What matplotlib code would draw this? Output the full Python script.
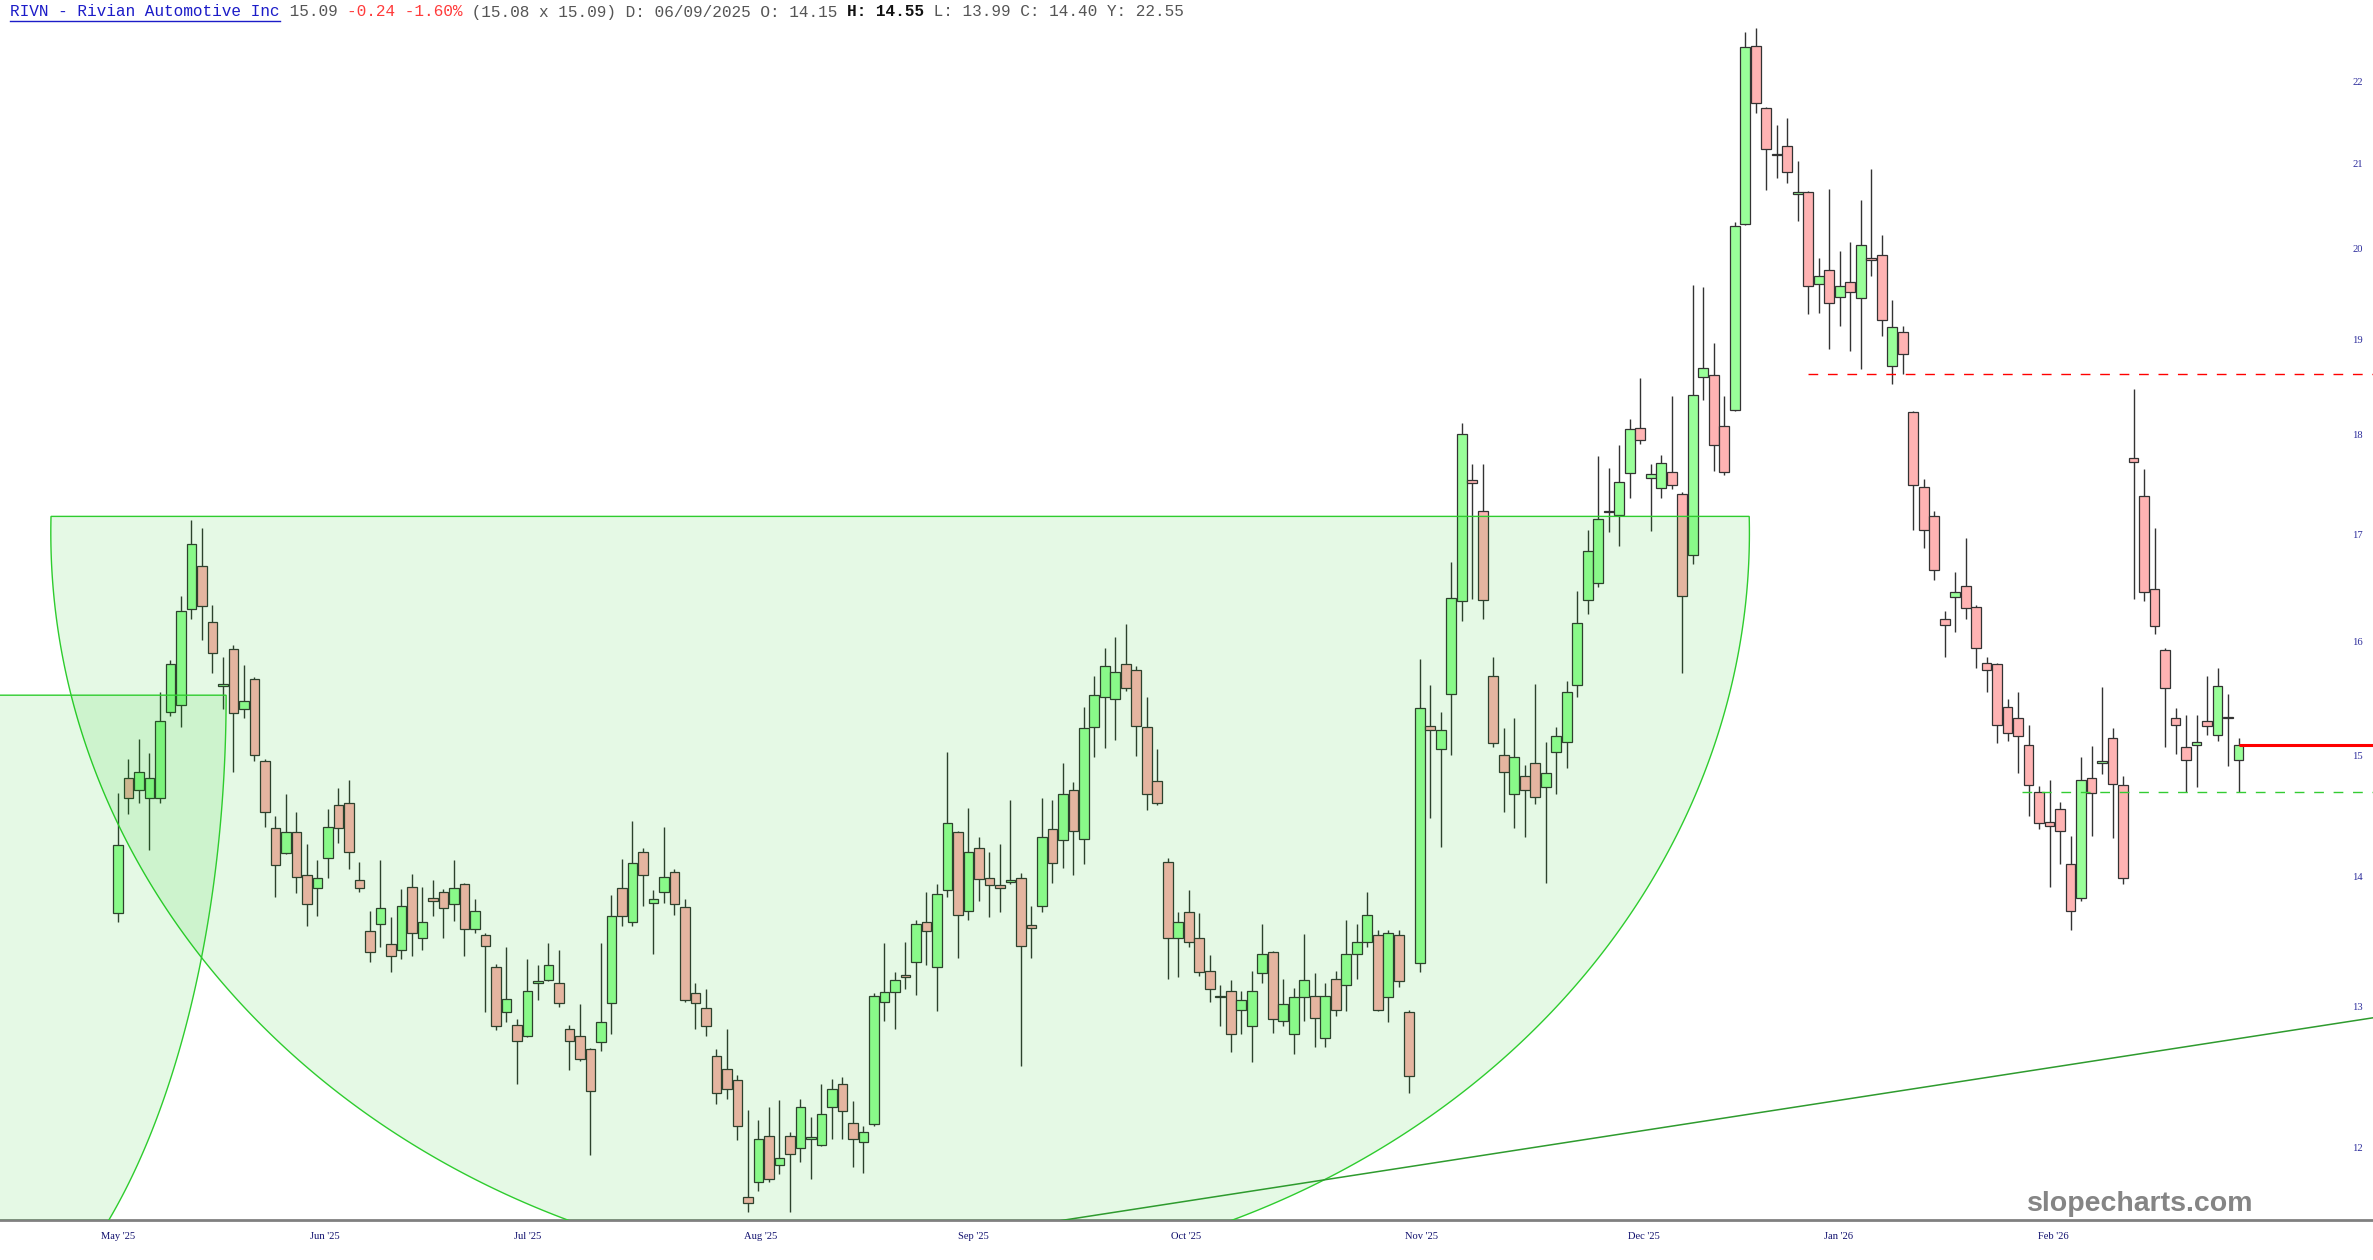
import numpy as np
import matplotlib.pyplot as plt
from matplotlib.patches import Polygon
from matplotlib.ticker import NullLocator

# daily OHLC (first bar = 9 May 2025)
opens = [13.71, 14.81, 14.71, 14.64, 14.64, 15.37, 15.43, 16.30, 16.70, 16.18,
         15.60, 15.93, 15.40, 15.66, 14.95, 14.39, 14.19, 14.36, 14.01, 13.91,
         14.15, 14.58, 14.60, 13.97, 13.57, 13.63, 13.47, 13.43, 13.92, 13.52,
         13.83, 13.88, 13.78, 13.94, 13.59, 13.54, 13.30, 12.96, 12.87, 12.79,
         13.18, 13.20, 13.18, 12.84, 12.79, 12.69, 12.74, 13.03, 13.91, 13.64,
         14.20, 13.79, 13.88, 14.04, 13.76, 13.10, 12.99, 12.64, 12.55, 12.47,
         11.67, 11.77, 12.08, 11.88, 12.08, 12.00, 12.06, 12.02, 12.28, 12.44,
         12.17, 12.04, 12.16, 13.04, 13.11, 13.24, 13.34, 13.64, 13.30, 13.89,
         14.36, 13.73, 14.23, 13.99, 13.93, 13.96, 13.99, 13.62, 13.77, 14.38,
         14.29, 14.71, 14.30, 15.24, 15.50, 15.49, 15.80, 15.74, 15.24, 14.78,
         14.12, 13.52, 13.72, 13.52, 13.27, 13.07, 13.12, 12.98, 12.86, 13.25,
         13.41, 12.90, 12.80, 13.07, 13.08, 12.77, 13.21, 13.16, 13.40, 13.49,
         13.54, 13.07, 13.54, 12.96, 13.33, 15.25, 15.05, 15.53, 16.37, 17.54,
         17.23, 15.69, 15.00, 14.67, 14.82, 14.93, 14.73, 15.03, 15.11, 15.61,
         16.38, 16.54, 17.22, 17.19, 17.61, 18.07, 17.56, 17.46, 17.62, 17.40,
         16.81, 18.60, 18.62, 18.09, 18.25, 20.29, 22.45, 21.67, 21.10, 21.21,
         20.63, 20.66, 19.61, 19.76, 19.46, 19.63, 19.45, 19.89, 19.93, 18.71,
         19.08, 18.23, 17.47, 17.18, 16.21, 16.41, 16.51, 16.32, 15.81, 15.80,
         15.42, 15.32, 15.09, 14.69, 14.44, 14.55, 14.10, 13.83, 14.81, 14.93,
         15.15, 14.75, 17.76, 17.38, 16.49, 15.92, 15.32, 15.07, 15.09, 15.29,
         15.17, 15.32, 14.96]
highs = [14.68, 14.97, 15.14, 15.02, 15.55, 15.83, 16.42, 17.14, 17.07, 16.34,
         15.86, 15.97, 15.79, 15.68, 14.97, 14.49, 14.67, 14.52, 14.26, 14.13,
         14.55, 14.72, 14.79, 14.12, 13.73, 14.13, 13.68, 13.90, 14.02, 13.92,
         13.97, 13.90, 14.13, 13.95, 13.82, 13.56, 13.32, 13.45, 12.91, 13.36,
         13.31, 13.48, 13.43, 12.87, 13.02, 12.70, 13.48, 13.85, 14.14, 14.45,
         14.23, 13.89, 14.40, 14.06, 13.82, 13.18, 13.13, 12.69, 12.84, 12.51,
         12.26, 12.19, 12.28, 12.33, 12.11, 12.34, 12.21, 12.44, 12.48, 12.49,
         12.32, 12.15, 13.10, 13.48, 13.26, 13.49, 13.66, 13.88, 13.94, 15.03,
         14.37, 14.56, 14.32, 14.20, 14.26, 14.62, 14.03, 13.77, 14.64, 14.62,
         14.93, 14.77, 15.42, 15.69, 15.94, 16.04, 16.16, 15.78, 15.50, 15.05,
         14.15, 13.72, 13.89, 13.71, 13.39, 13.16, 13.20, 13.12, 13.27, 13.63,
         13.42, 13.21, 13.14, 13.55, 13.25, 13.18, 13.27, 13.66, 13.63, 13.88,
         13.58, 13.58, 13.58, 12.98, 15.84, 15.61, 15.37, 16.74, 18.12, 17.70,
         17.70, 15.86, 15.23, 15.32, 14.92, 15.62, 15.11, 15.24, 15.65, 16.47,
         17.05, 17.78, 17.66, 17.89, 18.16, 18.59, 17.70, 17.79, 18.40, 17.42,
         19.59, 19.57, 18.96, 18.40, 20.31, 22.62, 22.67, 21.68, 21.46, 21.54,
         21.02, 20.67, 19.90, 20.69, 19.98, 20.08, 20.56, 20.93, 20.16, 19.43,
         19.14, 18.24, 17.55, 17.23, 16.28, 16.65, 16.97, 16.34, 15.86, 15.81,
         15.49, 15.55, 15.26, 14.74, 14.79, 14.61, 14.33, 14.98, 15.08, 15.59,
         15.23, 14.82, 18.47, 17.65, 17.07, 15.94, 15.41, 15.35, 15.35, 15.69,
         15.76, 15.53, 15.15]
lows = [13.64, 14.51, 14.60, 14.21, 14.60, 15.34, 15.24, 16.21, 16.01, 15.72,
        15.40, 14.86, 15.32, 14.95, 14.40, 13.84, 14.18, 13.87, 13.61, 13.69,
        13.99, 14.27, 14.06, 13.88, 13.34, 13.45, 13.26, 13.36, 13.38, 13.43,
        13.69, 13.52, 13.65, 13.38, 13.56, 12.96, 12.83, 12.89, 12.44, 12.78,
        13.05, 13.19, 13.00, 12.54, 12.61, 11.95, 12.68, 12.80, 13.61, 13.61,
        13.77, 13.40, 13.79, 13.70, 13.04, 12.84, 12.79, 12.30, 12.34, 12.05,
        11.57, 11.71, 11.77, 11.82, 11.57, 11.90, 11.79, 12.01, 12.06, 12.06,
        11.87, 11.83, 12.15, 12.90, 12.84, 13.13, 13.09, 13.31, 12.97, 13.84,
        13.37, 13.66, 13.81, 13.68, 13.72, 13.94, 12.57, 13.37, 13.72, 13.95,
        14.07, 14.01, 14.10, 14.98, 15.06, 15.13, 15.56, 14.99, 14.54, 14.58,
        13.21, 13.22, 13.45, 13.23, 13.04, 12.86, 12.67, 12.80, 12.60, 13.18,
        12.81, 12.86, 12.66, 12.90, 12.71, 12.71, 12.93, 12.97, 13.21, 13.45,
        12.97, 12.89, 13.15, 12.38, 13.26, 14.47, 14.24, 15.00, 16.19, 16.39,
        16.21, 15.07, 14.52, 14.39, 14.32, 14.59, 13.95, 14.67, 14.89, 15.50,
        16.25, 16.50, 17.03, 16.89, 17.36, 17.90, 17.04, 17.36, 17.45, 15.72,
        16.72, 18.36, 17.63, 17.59, 18.24, 20.27, 21.61, 20.68, 20.82, 20.76,
        20.32, 19.27, 19.29, 18.89, 19.14, 18.87, 18.68, 19.69, 19.03, 18.52,
        18.63, 17.05, 16.87, 16.57, 15.86, 16.09, 16.21, 15.76, 15.55, 15.10,
        15.12, 14.85, 14.49, 14.38, 13.92, 14.10, 13.58, 13.81, 14.33, 14.84,
        14.31, 13.94, 16.39, 16.37, 16.07, 15.07, 15.01, 14.69, 14.73, 15.17,
        15.12, 14.91, 14.69]
closes = [14.25, 14.64, 14.86, 14.81, 15.29, 15.80, 16.28, 16.91, 16.33, 15.90,
          15.62, 15.36, 15.47, 15.00, 14.52, 14.09, 14.36, 14.00, 13.78, 13.99,
          14.40, 14.39, 14.20, 13.91, 13.41, 13.75, 13.38, 13.77, 13.56, 13.64,
          13.81, 13.75, 13.91, 13.59, 13.73, 13.46, 12.86, 13.06, 12.75, 13.12,
          13.19, 13.31, 13.03, 12.75, 12.62, 12.39, 12.89, 13.69, 13.69, 14.11,
          14.01, 13.82, 14.00, 13.78, 13.05, 13.03, 12.86, 12.38, 12.41, 12.15,
          11.63, 12.06, 11.79, 11.93, 11.96, 12.28, 12.07, 12.23, 12.41, 12.25,
          12.06, 12.11, 13.08, 13.11, 13.20, 13.22, 13.63, 13.57, 13.86, 14.43,
          13.70, 14.20, 13.98, 13.93, 13.91, 13.97, 13.46, 13.60, 14.32, 14.11,
          14.67, 14.37, 15.23, 15.52, 15.78, 15.73, 15.58, 15.25, 14.67, 14.60,
          13.52, 13.64, 13.49, 13.26, 13.13, 13.08, 12.80, 13.05, 13.12, 13.40,
          12.91, 13.02, 13.07, 13.20, 12.92, 13.08, 12.98, 13.40, 13.49, 13.70,
          12.98, 13.56, 13.19, 12.50, 15.41, 15.22, 15.22, 16.40, 18.00, 17.51,
          16.38, 15.10, 14.86, 14.98, 14.71, 14.65, 14.85, 15.16, 15.55, 16.17,
          16.85, 17.15, 17.23, 17.52, 18.05, 17.94, 17.60, 17.71, 17.49, 16.42,
          18.41, 18.69, 17.89, 17.62, 20.26, 22.43, 21.73, 21.17, 21.11, 20.89,
          20.66, 19.58, 19.70, 19.40, 19.58, 19.52, 20.04, 19.88, 19.21, 19.13,
          18.84, 17.49, 17.05, 16.66, 16.15, 16.46, 16.31, 15.94, 15.74, 15.26,
          15.19, 15.16, 14.75, 14.43, 14.41, 14.37, 13.73, 14.79, 14.68, 14.95,
          14.76, 13.99, 17.72, 16.46, 16.14, 15.58, 15.26, 14.96, 15.11, 15.25,
          15.60, 15.33, 15.09]

month_labels = ["May '25", "Jun '25", "Jul '25", "Aug '25", "Sep '25",
                "Oct '25", "Nov '25", "Dec '25", "Jan '26", "Feb '26"]
month_pos = [0, 19.7, 39.0, 61.2, 81.5, 101.7, 124.2, 145.3, 163.9, 184.4]
price_ticks = [12, 13, 14, 15, 16, 17, 18, 19, 20, 21, 22]

last_price = 15.09
resistance = 18.63
support = 14.69

W, H = 2373, 1260
fig = plt.figure(figsize=(W / 100, H / 100), dpi=100)
ax = fig.add_axes([0, 40.4 / H, 1, 1219.6 / H])
ax.set_yscale('log')
ax.set_xlim(-11.24, 214.8)
ax.set_ylim(11.52, 23.04)

o = np.array(opens)
h = np.array(highs)
l = np.array(lows)
c = np.array(closes)
x = np.arange(len(o))
up = c >= o

# candles
ax.vlines(x, l, h, color='#333333', lw=1.0, zorder=2)
bottom = np.minimum(o, c)
height = np.maximum(np.abs(c - o), 0.012)
ax.bar(x, height, bottom=bottom, width=0.92,
       color=np.where(up, '#99FF99', '#FFB3B3'),
       edgecolor='#333333', linewidth=0.9, zorder=2.5)

# drawn shapes (half ellipses in index / log-price space)
def half_ellipse(cx, a, pc, b, ptop):
    t0 = np.arcsin(np.log(ptop / pc) / b)
    t = np.linspace(-t0, np.pi + t0, 400)
    return np.column_stack([cx + a * np.cos(t), pc * np.exp(-b * np.sin(t))])

fill = (0.0, 0.78, 0.0, 0.1)
edge = '#2ECC2E'
ax.add_patch(Polygon(half_ellipse(74.5, 80.9, 17.02, 0.4244, 17.18), closed=True,
                     facecolor=fill, edgecolor=edge, lw=1.0, zorder=3))
ax.add_patch(Polygon(half_ellipse(-18.4, 28.7, 15.52, 0.3767, 15.52), closed=True,
                     facecolor=fill, edgecolor=edge, lw=1.0, zorder=3))

# trend line
ax.plot([80, 214.8], [11.41, 12.92], color='#2E9B2E', lw=1.1, zorder=3)

# horizontal levels
ax.plot([161, 214.8], [resistance, resistance], color='#FF0000', lw=1.0,
        dashes=(7, 7), zorder=4)
ax.plot([181.4, 214.8], [support, support], color='#33CC33', lw=1.0,
        dashes=(7, 7), zorder=4)
ax.plot([len(o) - 1, 214.8], [last_price, last_price], color='#FF0000',
        lw=2.2, zorder=4, solid_capstyle='butt')

# axes styling
for s in ['top', 'left', 'right']:
    ax.spines[s].set_visible(False)
ax.spines['bottom'].set_color('#808080')
ax.spines['bottom'].set_linewidth(2.0)

ax.set_xticks(month_pos)
ax.set_xticklabels(month_labels, fontfamily='Liberation Serif', fontsize=7.6,
                   color='#10106e')
ax.tick_params(axis='x', length=0, pad=9)

ax.yaxis.tick_right()
ax.set_yticks(price_ticks)
ax.set_yticklabels([str(p) for p in price_ticks], fontfamily='Liberation Serif',
                   fontsize=7.6, color='#2b2b9b')
ax.yaxis.set_minor_locator(NullLocator())
ax.tick_params(axis='y', which='both', length=0, pad=-15)

# header line
renderer = fig.canvas.get_renderer()
probe = fig.text(0, 0, 'M' * 20, fontfamily='Liberation Mono', fontsize=11.6)
cw = probe.get_window_extent(renderer).width / 20
probe.remove()

pieces = [("RIVN - Rivian Automotive Inc", '#1C1CC8', 'normal'),
          (" 15.09 ", '#555555', 'normal'),
          ("-0.24 -1.60%", '#FF3B3B', 'normal'),
          (" (15.08 x 15.09) D: 06/09/2025 O: 14.15 ", '#555555', 'normal'),
          ("H: 14.55", '#111111', 'bold'),
          (" L: 13.99 C: 14.40 Y: 22.55", '#555555', 'normal')]
x0 = 10
ty = 1 - 12 / H
n = 0
for txt, col, wt in pieces:
    fig.text((x0 + n * cw) / W, ty, txt, fontfamily='Liberation Mono',
             fontsize=11.6, color=col, fontweight=wt, va='center', ha='left')
    n += len(txt)
fig.add_artist(plt.Line2D([x0 / W, (x0 + 28 * cw) / W], [1 - 21 / H, 1 - 21 / H],
                          color='#1C1CC8', lw=1.0))

# watermark
fig.text(2140 / W, 1 - 1204 / H, 'slopecharts.com', fontfamily='Liberation Sans',
         fontweight='bold', fontsize=20.5, color='#858585', ha='center', va='center')

fig.savefig('out.png', dpi=100)
